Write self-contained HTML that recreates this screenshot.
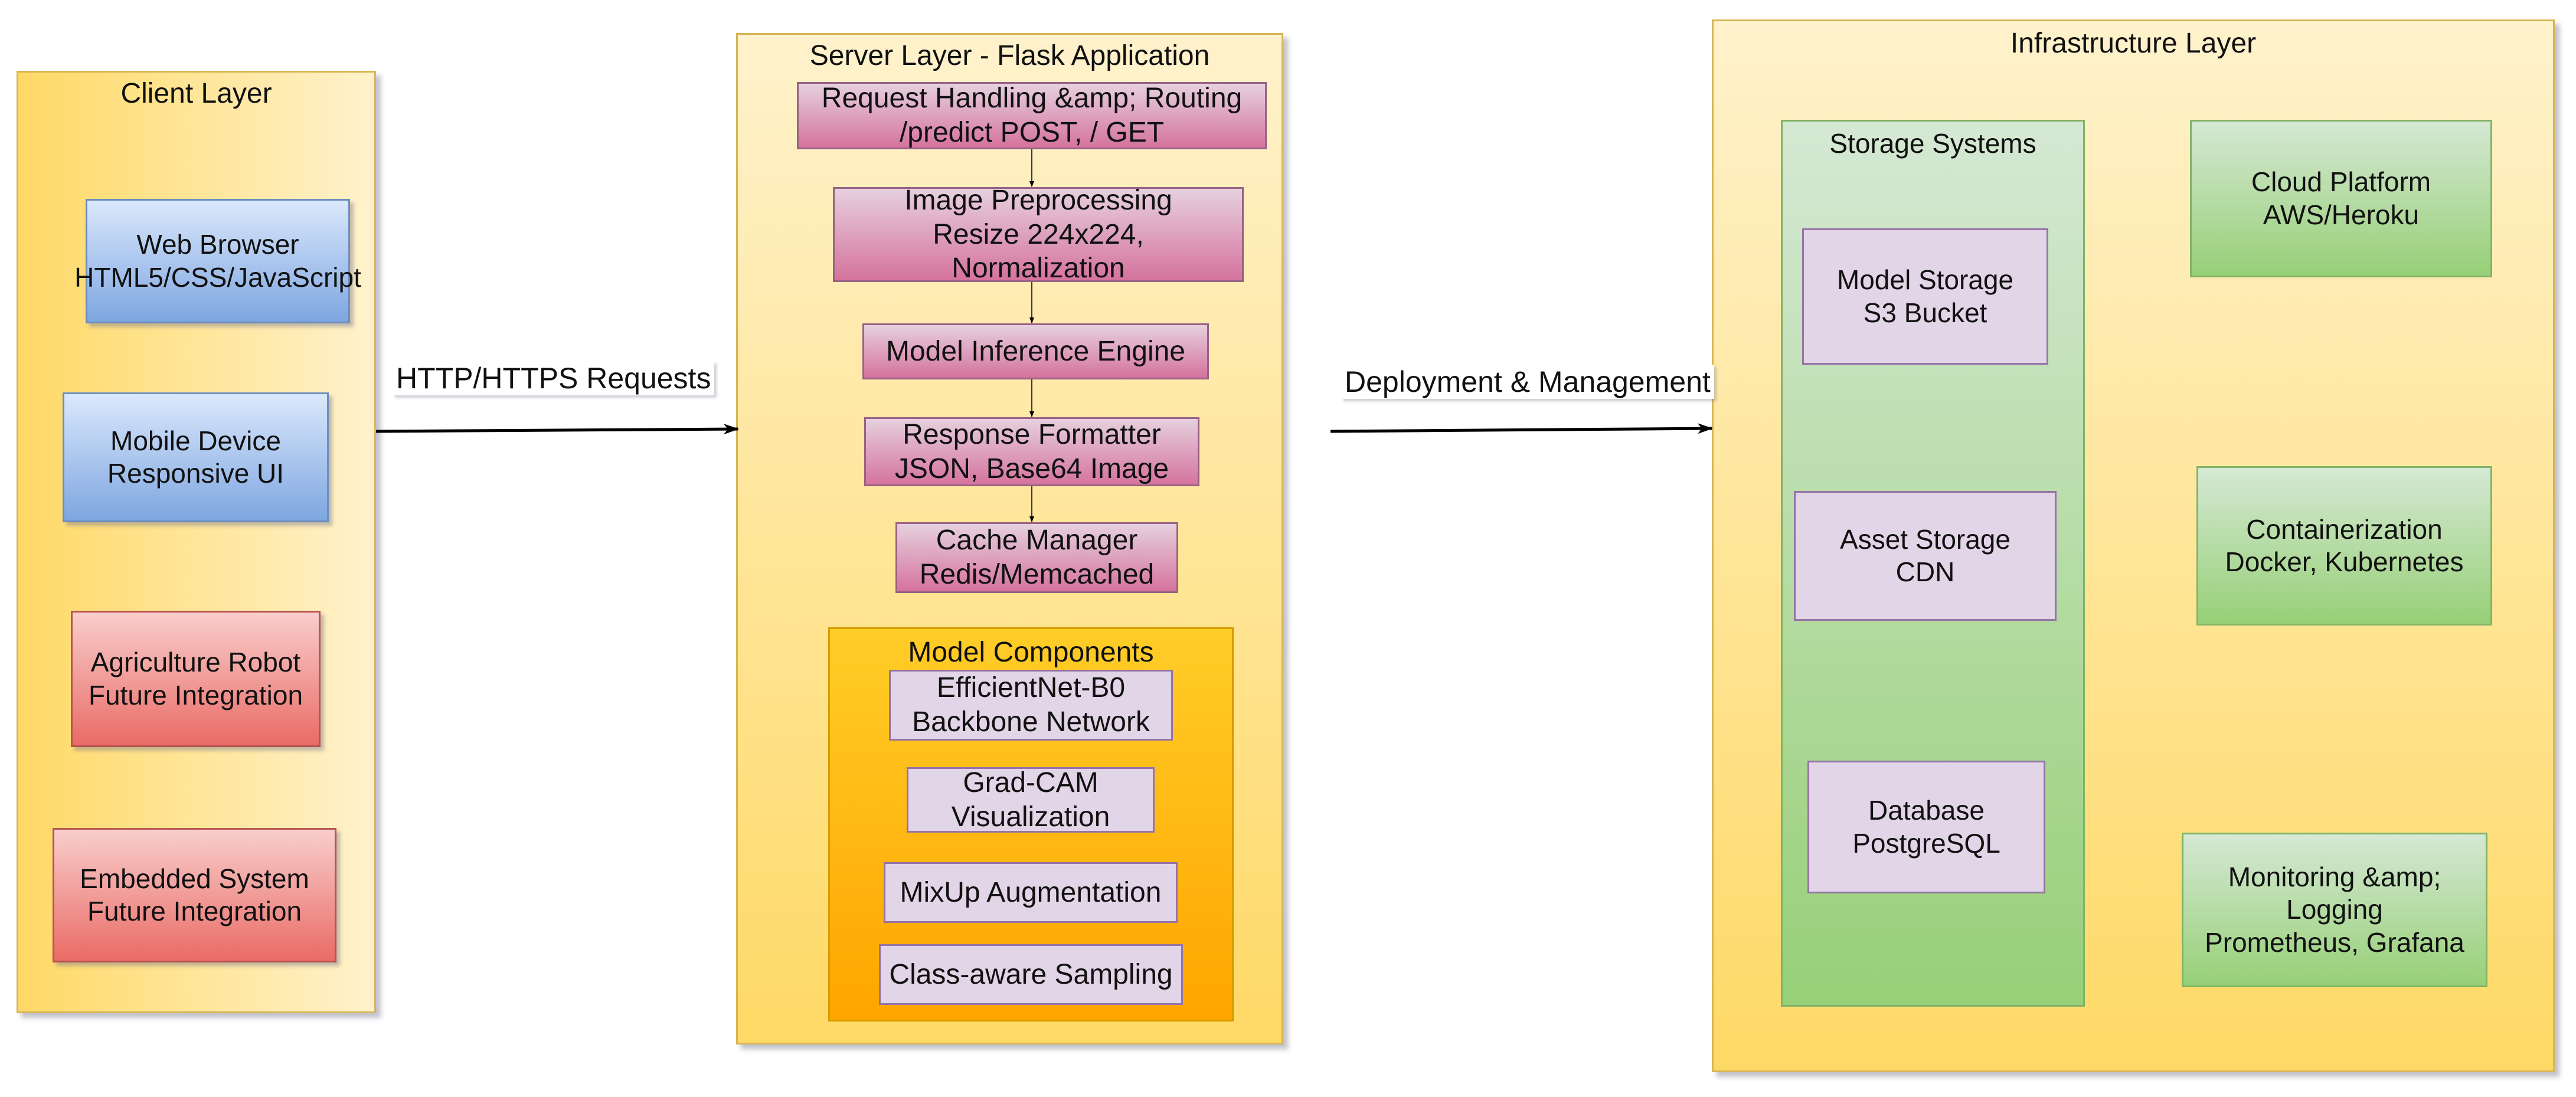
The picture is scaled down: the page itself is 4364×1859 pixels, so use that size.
<!DOCTYPE html>
<html><head><meta charset="utf-8"><style>
body{margin:0;width:4364px;height:1859px;background:#fff;position:relative;overflow:hidden;font-family:"Liberation Sans",sans-serif;color:#111}
.b{position:absolute;box-sizing:border-box;display:flex;align-items:center;justify-content:center;text-align:center;font-size:46px;line-height:1.2;box-shadow:6px 6px 6px rgba(120,120,140,.45)}
.c{position:absolute;box-sizing:border-box;box-shadow:8px 8px 8px rgba(120,120,140,.45)}
.t{position:absolute;left:0;right:0;text-align:center;font-size:46px}
.blue{background:linear-gradient(#dae8fc,#7ea6e0);border:3px solid #6c8ebf}
.red{background:linear-gradient(#f8cecc,#ea6b66);border:3px solid #b85450}
.pink{background:linear-gradient(#e6d0de,#d5739d);border:3px solid #996185;box-shadow:none;font-size:48px}
.pur{background:#e1d5e7;border:3px solid #9673a6;box-shadow:none}
.srv .pur{font-size:48px}
.grn{background:linear-gradient(#d5e8d4,#97d077);border:3px solid #82b366;box-shadow:none}
.lbl{position:absolute;font-size:50px;background:#fff;padding:0 6px;box-shadow:4px 4px 4px rgba(120,120,140,.35)}
</style></head><body>
<div class="c" style="left:28px;top:120px;width:609px;height:1597px;background:linear-gradient(90deg,#ffd966,#fff2cc);border:3px solid #d6b656"><div class="t" style="top:8px;font-size:48px">Client Layer</div></div>
<div class="b blue" style="left:145px;top:337px;width:448px;height:211px;white-space:nowrap">Web Browser<br>HTML5/CSS/JavaScript</div>
<div class="b blue" style="left:106px;top:665px;width:451px;height:220px">Mobile Device<br>Responsive UI</div>
<div class="b red" style="left:120px;top:1035px;width:423px;height:231px">Agriculture Robot<br>Future Integration</div>
<div class="b red" style="left:89px;top:1403px;width:481px;height:228px">Embedded System<br>Future Integration</div>

<div class="c" style="left:1247px;top:56px;width:927px;height:1714px;background:linear-gradient(#fff2cc,#ffd966);border:3px solid #d6b656"><div class="t" style="top:8px;font-size:48px">Server Layer - Flask Application</div></div>
<div class="srv">
<div class="b pink" style="left:1350px;top:139px;width:796px;height:114px">Request Handling &amp;amp; Routing<br>/predict POST, / GET</div>
<div class="b pink" style="left:1411px;top:317px;width:696px;height:161px">Image Preprocessing<br>Resize 224x224,<br>Normalization</div>
<div class="b pink" style="left:1461px;top:548px;width:587px;height:95px">Model Inference Engine</div>
<div class="b pink" style="left:1464px;top:707px;width:568px;height:117px">Response Formatter<br>JSON, Base64 Image</div>
<div class="b pink" style="left:1517px;top:885px;width:479px;height:120px">Cache Manager<br>Redis/Memcached</div>
<div class="c" style="left:1403px;top:1063px;width:687px;height:668px;background:linear-gradient(#ffcd28,#ffa500);border:3px solid #d79b00;box-shadow:none"><div class="t" style="top:12px;font-size:48px">Model Components</div></div>
<div class="b pur" style="left:1506px;top:1135px;width:481px;height:120px">EfficientNet-B0<br>Backbone Network</div>
<div class="b pur" style="left:1536px;top:1300px;width:420px;height:111px">Grad-CAM<br>Visualization</div>
<div class="b pur" style="left:1497px;top:1461px;width:498px;height:103px">MixUp Augmentation</div>
<div class="b pur" style="left:1489px;top:1600px;width:515px;height:103px">Class-aware Sampling</div>
</div>

<div class="c" style="left:2900px;top:33px;width:1428px;height:1784px;background:linear-gradient(#fff2cc,#ffd966);border:3px solid #d6b656"><div class="t" style="top:10px;font-size:48px">Infrastructure Layer</div></div>
<div class="c" style="left:3017px;top:203px;width:515px;height:1503px;background:linear-gradient(#d5e8d4,#97d077);border:3px solid #82b366;box-shadow:none"><div class="t" style="top:10px">Storage Systems</div></div>
<div class="b pur" style="left:3053px;top:387px;width:417px;height:231px">Model Storage<br>S3 Bucket</div>
<div class="b pur" style="left:3039px;top:832px;width:445px;height:220px">Asset Storage<br>CDN</div>
<div class="b pur" style="left:3062px;top:1289px;width:403px;height:225px">Database<br>PostgreSQL</div>
<div class="b grn" style="left:3710px;top:203px;width:512px;height:267px">Cloud Platform<br>AWS/Heroku</div>
<div class="b grn" style="left:3721px;top:790px;width:501px;height:270px">Containerization<br>Docker, Kubernetes</div>
<div class="b grn" style="left:3696px;top:1411px;width:518px;height:262px">Monitoring &amp;amp;<br>Logging<br>Prometheus, Grafana</div>

<div class="lbl" style="left:665px;top:612px">HTTP/HTTPS Requests</div>
<div class="lbl" style="left:2272px;top:618px">Deployment &amp; Management</div>
<svg style="position:absolute;left:0;top:0" width="4364" height="1859">
<defs><marker id="a" markerWidth="10" markerHeight="8" refX="9" refY="4" orient="auto" markerUnits="userSpaceOnUse"><path d="M0,0L10,4L0,8z" fill="#000"/></marker>
<marker id="A" markerWidth="26" markerHeight="18" refX="24" refY="9" orient="auto" markerUnits="userSpaceOnUse"><path d="M0,0L26,9L0,18L7,9z" fill="#000"/></marker></defs>
<g stroke="#000" stroke-width="5" fill="none">
<path d="M637,731 L1250,727" marker-end="url(#A)"/>
<path d="M2254,731 L2900,726" marker-end="url(#A)"/>
</g>
<g stroke="#333" stroke-width="2" fill="none">
<path d="M1748,253 L1748,316" marker-end="url(#a)"/>
<path d="M1748,478 L1748,547" marker-end="url(#a)"/>
<path d="M1748,643 L1748,706" marker-end="url(#a)"/>
<path d="M1748,824 L1748,884" marker-end="url(#a)"/>
</g></svg>
</body></html>
